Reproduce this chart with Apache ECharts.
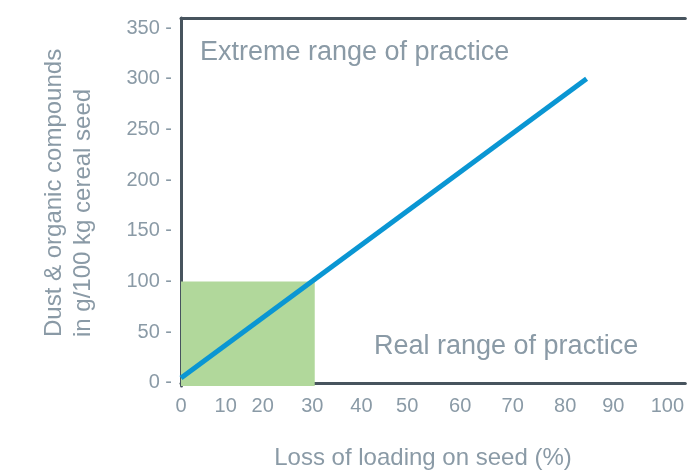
<!DOCTYPE html>
<html>
<head>
<meta charset="utf-8">
<script src="https://cdn.jsdelivr.net/npm/echarts@6/dist/echarts.min.js"></script>
<style>
  html, body { margin: 0; padding: 0; background: #fff; }
  #chart { width: 687px; height: 470px; }
</style>
</head>
<body>
<div id="chart"></div>
<script>
// Tick labels of the x axis and where they sit on the axis (the original spacing is uneven)
const xTickLabels = ['0', '10', '20', '30', '40', '50', '60', '70', '80', '90', '100'];
const xTickAt = [0, 9.2, 16.8, 27.0, 37.1, 46.5, 57.4, 68.2, 79.0, 88.9, 100];
const yTicks = [0, 50, 100, 150, 200, 250, 300, 350];

// Straight line: loss of loading vs dust & organic compounds
const lineX = [0, 83.4];
const lineY = [5, 300];

// Green "real range of practice" box
const boxX = [0, 27.5];
const boxY = [-3, 100];

const xMin = 0, xMax = 103.7;
const yMin = -3, yMax = 360;

const grey = '#8a9aa6';
const axisColor = '#47545e';
const font = '"Liberation Sans", Arial, sans-serif';

const chart = echarts.init(document.getElementById('chart'));

const option = {
    animation: false,
    backgroundColor: '#fff',
    grid: { left: 181, right: 0, top: 18, bottom: 84 },
    xAxis: [
        {
            type: 'value',
            min: xMin,
            max: xMax,
            axisLine: { lineStyle: { color: axisColor, width: 3 } },
            axisTick: { show: false },
            splitLine: { show: false },
            axisLabel: {
                customValues: xTickAt,
                margin: 10,
                color: grey,
                fontFamily: font,
                fontSize: 20,
                formatter: v => {
                    const i = xTickAt.indexOf(v);
                    return i >= 0 ? xTickLabels[i] : '';
                }
            }
        },
        {
            type: 'value',
            position: 'top',
            min: xMin,
            max: xMax,
            axisLine: { show: true, lineStyle: { color: axisColor, width: 3 } },
            axisTick: { show: false },
            axisLabel: { show: false },
            splitLine: { show: false }
        }
    ],
    yAxis: {
        type: 'value',
        min: yMin,
        max: yMax,
        axisLine: { show: true, lineStyle: { color: axisColor, width: 3 } },
        axisTick: { show: false },
        splitLine: { show: false },
        axisLabel: {
            customValues: yTicks,
            margin: 9,
            color: grey,
            fontFamily: font,
            fontSize: 20,
            formatter: v => v + ' -'
        }
    },
    series: [
        {
            type: 'line',
            data: lineX.map((x, i) => [x, lineY[i]]),
            showSymbol: false,
            lineStyle: { color: '#0a96d3', width: 5 },
            z: 3,
            markArea: {
                silent: true,
                itemStyle: { color: '#b1d89b', opacity: 1 },
                data: [[{ xAxis: boxX[0], yAxis: boxY[0] }, { xAxis: boxX[1], yAxis: boxY[1] }]]
            }
        }
    ],
    graphic: [
        {
            type: 'text', left: 200, top: 39,
            style: { text: 'Extreme range of practice', fill: grey, font: '27px ' + font }
        },
        {
            type: 'text', left: 374, top: 333,
            style: { text: 'Real range of practice', fill: grey, font: '27px ' + font }
        },
        {
            type: 'text', x: 423, y: 458,
            style: { text: 'Loss of loading on seed (%)', fill: grey, font: '24px ' + font, align: 'center', verticalAlign: 'middle' }
        },
        {
            type: 'text', x: 69, y: 337, rotation: Math.PI / 2,
            style: {
                text: 'Dust & organic compounds\nin g/100 kg cereal seed',
                fill: grey, font: '24px ' + font, align: 'left', verticalAlign: 'middle', lineHeight: 29
            }
        }
    ]
};

chart.setOption(option);
</script>
</body>
</html>
